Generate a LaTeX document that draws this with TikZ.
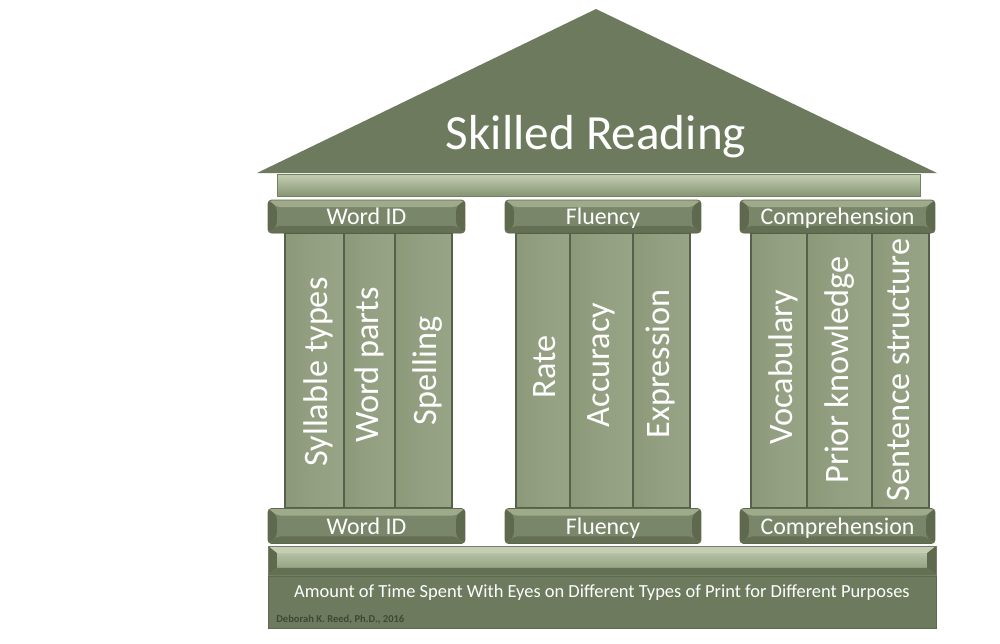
\documentclass[tikz,border=0pt]{standalone}
\usepackage{fontspec}
\setmainfont{Carlito}
\definecolor{roof}{HTML}{6E7A5D}
\definecolor{cap}{HTML}{7A8669}
\definecolor{capl}{HTML}{9FAA8B}
\definecolor{capd}{HTML}{5E694E}
\definecolor{shaft}{HTML}{8C9979}
\definecolor{shaftl}{HTML}{98A486}
\definecolor{shaftd}{HTML}{56614A}
\definecolor{bar}{HTML}{A7B494}
\definecolor{barl}{HTML}{C4CEB3}
\definecolor{bard}{HTML}{879574}
\definecolor{sig}{HTML}{3F4735}
\tikzset{
  bevel/.style={path picture={
    \fill[#1] (path picture bounding box.north west) -- (path picture bounding box.north east)
      -- ([xshift=-5pt,yshift=-4pt]path picture bounding box.north east)
      -- ([xshift=5pt,yshift=-4pt]path picture bounding box.north west) -- cycle;
    \fill[capd] (path picture bounding box.north west) -- ([xshift=5pt,yshift=-4pt]path picture bounding box.north west)
      -- ([xshift=5pt,yshift=4pt]path picture bounding box.south west) -- (path picture bounding box.south west) -- cycle;
    \fill[capd] (path picture bounding box.north east) -- ([xshift=-5pt,yshift=-4pt]path picture bounding box.north east)
      -- ([xshift=-5pt,yshift=4pt]path picture bounding box.south east) -- (path picture bounding box.south east) -- cycle;
    \fill[capd!80!cap] (path picture bounding box.south west) -- ([xshift=5pt,yshift=4pt]path picture bounding box.south west)
      -- ([xshift=-5pt,yshift=4pt]path picture bounding box.south east) -- (path picture bounding box.south east) -- cycle;
  }},
  capbox/.style={rectangle, fill=cap, draw=capd, rounded corners=2pt, inner sep=0pt,
    minimum height=0.66cm, text=white, font=\fontsize{13.6}{15}\selectfont, bevel=capl,
    text height=0.92em, text depth=0em},
  colbox/.style={rectangle, draw=shaftd, line width=0.6pt, inner sep=0pt, minimum height=5.5cm,
    left color=shaft, right color=shaftl, middle color=shaftl!60!shaft},
  collabel/.style={rotate=90, text=white, inner sep=0pt, font=\fontsize{19.5}{21}\selectfont},
  barbox/.style={rectangle, inner sep=0pt, top color=barl, bottom color=bard, draw=capd!70!bar, line width=0.4pt},
}
\begin{document}
\begin{tikzpicture}[x=0.02cm,y=-0.02cm]
\useasboundingbox (0,0) rectangle (1000,643);
% roof
\fill[roof] (257,173) -- (596,9) -- (937,173) -- cycle;
\node[text=white, font=\fontsize{28}{32}\selectfont] (title) at (596,137) {Skilled Reading};
% lintel
\node[barbox, minimum width=12.86cm, minimum height=0.44cm] (lintel) at (598.5,185) {};
% top capitals
\node[capbox, minimum width=3.94cm] (capA) at (366.5,216.5) {Word ID};
\node[capbox, minimum width=3.92cm] (capB) at (603,216.5) {Fluency};
\node[capbox, minimum width=3.90cm] (capC) at (837.5,216.5) {Comprehension};
% shafts
\node[colbox, minimum width=1.18cm] (a1) at (314.5,370.5) {};
\node[colbox, minimum width=1.02cm] (a2) at (369.5,370.5) {};
\node[colbox, minimum width=1.14cm] (a3) at (423.5,370.5) {};
\node[colbox, minimum width=1.08cm] (b1) at (543,370.5) {};
\node[colbox, minimum width=1.26cm] (b2) at (601.5,370.5) {};
\node[colbox, minimum width=1.14cm] (b3) at (661.5,370.5) {};
\node[colbox, minimum width=1.12cm] (c1) at (779,370.5) {};
\node[colbox, minimum width=1.30cm] (c2) at (839.5,370.5) {};
\node[colbox, minimum width=1.14cm] (c3) at (900.5,370.5) {};
\node[collabel] (la1) at (318,372) {Syllable types};
\node[collabel] (la2) at (369,365) {Word parts};
\node[collabel] (la3) at (428,371) {Spelling};
\node[collabel] (lb1) at (545,367) {Rate};
\node[collabel] (lb2) at (601,365) {Accuracy};
\node[collabel] (lb3) at (660,364) {Expression};
\node[collabel] (lc1) at (783,367) {Vocabulary};
\node[collabel] (lc2) at (840,370) {Prior knowledge};
\node[collabel] (lc3) at (898,370) {Sentence structure};
% bottom capitals
\node[capbox, minimum width=3.94cm, minimum height=0.7cm] (bA) at (366.5,526) {Word ID};
\node[capbox, minimum width=3.92cm, minimum height=0.7cm] (bB) at (603,526) {Fluency};
\node[capbox, minimum width=3.90cm, minimum height=0.7cm] (bC) at (837.5,526) {Comprehension};
% base bar
\node[barbox, minimum width=13.36cm, minimum height=0.58cm, bevel=barl] (base) at (602,560.5) {};
% footer
\node[rectangle, fill=roof, draw=capd, inner sep=0pt, minimum width=13.36cm, minimum height=1.04cm] (footer) at (602,602) {};
\node[text=white, font=\fontsize{10.5}{12}\selectfont] (foottext) at (602,593) {Amount of Time Spent With Eyes on Different Types of Print for Different Purposes};
\node[anchor=west, text=sig, inner sep=0pt, font=\fontsize{6}{7}\selectfont\bfseries] (sign) at (276,620) {Deborah K. Reed, Ph.D., 2016};
\end{tikzpicture}
\end{document}
